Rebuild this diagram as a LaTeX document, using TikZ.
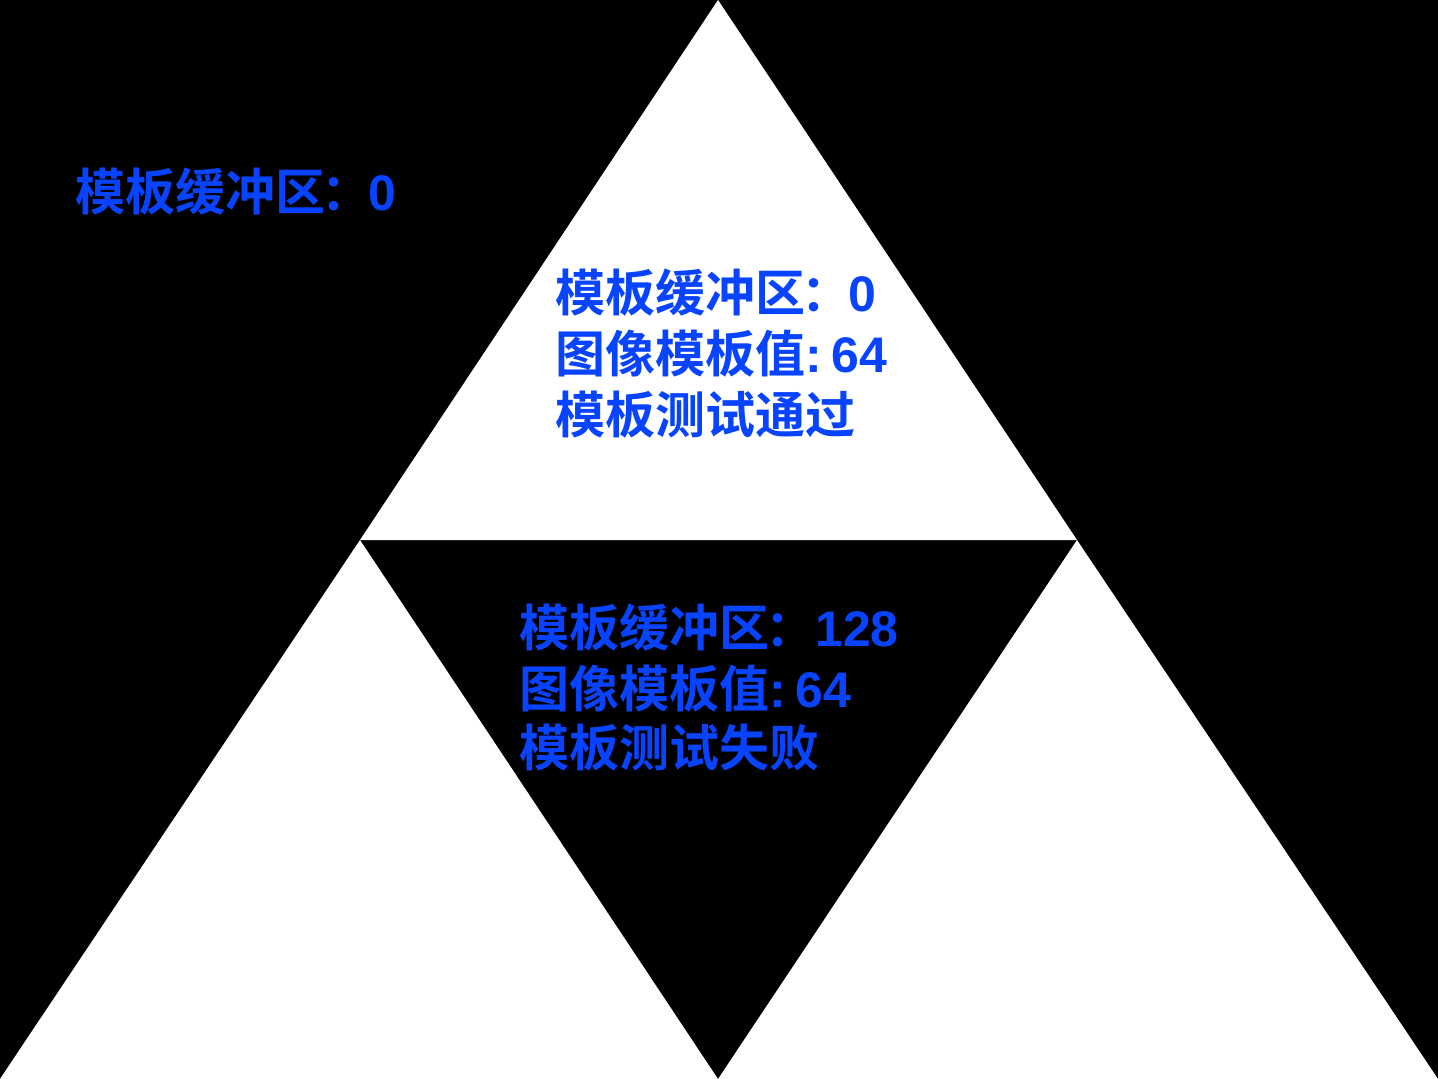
\documentclass[tikz,border=0pt]{standalone}
\usepackage{fontspec}
\newfontfamily\cjk{Noto Sans CJK SC Bold}
\newfontfamily\digf{Liberation Sans Bold}
\definecolor{lblblue}{RGB}{8,68,255}
\begin{document}
\begin{tikzpicture}[x=1pt,y=-1pt,
  lbl/.style={anchor=base west,inner sep=0pt,text=lblblue,font=\cjk\fontsize{50}{60}\selectfont}]
\useasboundingbox (0,0) rectangle (1438,1079);
\fill[black] (0,0) rectangle (1438,1079);
% Sierpinski white triangles
\fill[white] (718,0) -- (360,540) -- (1077,540) -- cycle;
\fill[white] (360,540) -- (0,1079) -- (718,1079) -- cycle;
\fill[white] (1077,540) -- (718,1079) -- (1438,1079) -- cycle;
% labels
\node[lbl] (a1) at (75,210) {模板缓冲区\kern-4pt：\kern-3pt{\digf 0}};
\node[lbl] (b1) at (555,311) {模板缓冲区\kern-4pt：\kern-3pt{\digf 0}};
\node[lbl] (b2) at (555,372) {图像模板值{\digf :\kern10pt 64}};
\node[lbl] (b3) at (555,433) {模板测试通过};
\node[lbl] (c1) at (519,646) {模板缓冲区\kern-4pt：{\digf 128}};
\node[lbl] (c2) at (519,707) {图像模板值{\digf :\kern10pt 64}};
\node[lbl] (c3) at (519,766) {模板测试失败};
\end{tikzpicture}
\end{document}
